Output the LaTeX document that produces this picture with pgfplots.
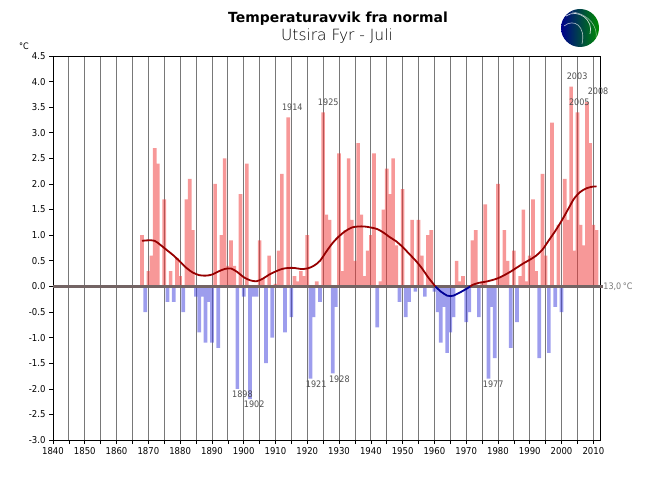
\documentclass[border=0pt]{standalone}
\usepackage{fontspec}
\setmainfont{DejaVu Sans}
\newfontfamily\cond{DejaVu Sans Condensed}
\newfontfamily\light{DejaVu Sans ExtraLight}
\usepackage{pgfplots}
\pgfplotsset{compat=1.18}
\usepackage{pgfplotstable}
\definecolor{gridgray}{RGB}{120,120,120}
\definecolor{barred}{RGB}{240,50,50}
\definecolor{barblue}{RGB}{60,60,220}
\definecolor{curvered}{RGB}{150,0,0}
\definecolor{curveblue}{RGB}{0,0,150}
\definecolor{labgray}{RGB}{80,80,80}
\definecolor{zerogray}{RGB}{115,100,100}

\pgfplotstableread{
year dev
1868 1.0
1869 -0.5
1870 0.3
1871 0.6
1872 2.7
1873 2.4
1874 0.0
1875 1.7
1876 -0.3
1877 0.3
1878 -0.3
1879 0.55
1880 0.2
1881 -0.5
1882 1.7
1883 2.1
1884 1.1
1885 -0.2
1886 -0.9
1887 -0.2
1888 -1.1
1889 -0.3
1890 -1.1
1891 2.0
1892 -1.2
1893 1.0
1894 2.5
1895 0.4
1896 0.9
1897 0.4
1898 -2.0
1899 1.8
1900 -0.2
1901 2.4
1902 -2.2
1903 -0.2
1904 -0.2
1905 0.9
1906 0.15
1907 -1.5
1908 0.6
1909 -1.0
1910 0.05
1911 0.7
1912 2.2
1913 -0.9
1914 3.3
1915 -0.6
1916 0.2
1917 0.1
1918 0.3
1919 0.2
1920 1.0
1921 -1.8
1922 -0.6
1923 0.1
1924 -0.3
1925 3.4
1926 1.4
1927 1.3
1928 -1.7
1929 -0.4
1930 2.6
1931 0.3
1932 1.1
1933 2.5
1934 1.3
1935 0.5
1936 2.8
1937 1.4
1938 0.2
1939 0.7
1940 1.0
1941 2.6
1942 -0.8
1943 0.1
1944 1.5
1945 2.3
1946 1.8
1947 2.5
1948 0.8
1949 -0.3
1950 1.9
1951 -0.6
1952 -0.3
1953 1.3
1954 -0.1
1955 1.3
1956 0.6
1957 -0.2
1958 1.0
1959 1.1
1960 -0.1
1961 -0.5
1962 -1.1
1963 -0.4
1964 -1.3
1965 -0.9
1966 -0.6
1967 0.5
1968 0.1
1969 0.2
1970 -0.7
1971 -0.5
1972 0.9
1973 1.1
1974 -0.6
1975 0.1
1976 1.6
1977 -1.8
1978 -0.4
1979 -1.4
1980 2.0
1981 0.2
1982 1.1
1983 0.5
1984 -1.2
1985 0.7
1986 -0.7
1987 0.2
1988 1.5
1989 0.1
1990 0.6
1991 1.7
1992 0.3
1993 -1.4
1994 2.2
1995 0.6
1996 -1.3
1997 3.2
1998 -0.4
1999 1.2
2000 -0.5
2001 2.1
2002 1.3
2003 3.9
2004 0.7
2005 3.4
2006 1.2
2007 0.8
2008 3.6
2009 2.8
2010 1.2
2011 1.1
}\datatable

\begin{document}
\begin{tikzpicture}
\begin{scope}[x=1bp,y=-1bp,shift={(-53bp,440bp)}]
\useasboundingbox (0,0) rectangle (650,500);
\end{scope}
\begin{axis}[
  at={(0,0)}, anchor=south west,
  scale only axis, width=547bp, height=384bp,
  xmin=1840, xmax=2012.1, ymin=-3, ymax=4.5,
  xtick={1840,1850,1860,1870,1880,1890,1900,1910,1920,1930,1940,1950,1960,1970,1980,1990,2000,2010},
  minor xtick={1845,1855,1865,1875,1885,1895,1905,1915,1925,1935,1945,1955,1965,1975,1985,1995,2005},
  ytick={-3,-2.5,-2,-1.5,-1,-0.5,0,0.5,1,1.5,2,2.5,3,3.5,4,4.5},
  xmajorgrids, xminorgrids,
  major grid style={gridgray, line width=0.8bp},
  minor grid style={gridgray, line width=0.8bp},
  tick align=outside, xtick pos=bottom, ytick pos=left,
  major tick length=4bp, minor tick length=4bp,
  tick style={black, line width=0.6bp},
  x tick label style={/pgf/number format/1000 sep={}},
  y tick label style={/pgf/number format/.cd, fixed, fixed zerofill, precision=1},
  tick label style={font=\cond\fontsize{9.5}{9.5}\selectfont},
  /pgf/number format/assume math mode=true,
  axis line style={black, line width=0.8bp},
  clip=false,
]
\addplot[ybar, bar width=1.15, bar shift=0pt, fill=barred, fill opacity=0.5, draw=none,
  restrict y to domain=0:10] table[x=year,y=dev]{\datatable};
\addplot[ybar, bar width=1.15, bar shift=0pt, fill=barblue, fill opacity=0.5, draw=none,
  restrict y to domain=-10:0] table[x=year,y=dev]{\datatable};
\addplot[zerogray, line width=2.4bp] coordinates {(1840,0) (2013,0)};
\addplot[curvered, line width=1.8bp, smooth] coordinates {
(1868,0.89) (1870,0.9) (1872,0.89) (1874,0.8) (1876,0.7) (1878,0.6) (1880,0.48)
(1882,0.36) (1884,0.27) (1886,0.22) (1888,0.21) (1890,0.23) (1892,0.29) (1894,0.34)
(1896,0.35) (1898,0.28) (1900,0.18) (1902,0.12) (1904,0.1) (1906,0.15) (1908,0.23)
(1910,0.29) (1912,0.34) (1914,0.36) (1916,0.36) (1918,0.34) (1920,0.35) (1922,0.4)
(1924,0.5) (1926,0.68) (1928,0.85) (1930,0.98) (1932,1.08) (1934,1.15) (1936,1.17)
(1938,1.17) (1940,1.15) (1942,1.12) (1944,1.05) (1946,0.96) (1948,0.88) (1950,0.77)
(1952,0.64) (1954,0.51) (1956,0.36) (1958,0.18) (1960.3,0)};
\addplot[curveblue, line width=1.8bp, smooth] coordinates {
(1960.3,0) (1962,-0.1) (1964,-0.18) (1965,-0.19) (1966,-0.18) (1968,-0.12) (1970,-0.05) (1971.3,0)};
\addplot[curvered, line width=1.8bp, smooth] coordinates {
(1971.3,0) (1972,0.03) (1974,0.07) (1976,0.09) (1978,0.12) (1980,0.16) (1982,0.22)
(1984,0.29) (1986,0.37) (1988,0.45) (1990,0.52) (1992,0.6) (1994,0.72) (1996,0.9)
(1998,1.08) (2000,1.28) (2002,1.5) (2004,1.72) (2006,1.85) (2008,1.92) (2010,1.95) (2011,1.95)};
\begin{scope}[every node/.style={labgray, font=\cond\fontsize{9}{9}\selectfont, inner sep=0pt}]
\node at (axis cs:1915.3,3.50) {1914};
\node at (axis cs:1926.6,3.60) {1925};
\node at (axis cs:1899.6,-2.10) {1898};
\node at (axis cs:1903.3,-2.30) {1902};
\node at (axis cs:1922.8,-1.91) {1921};
\node at (axis cs:1930.1,-1.81) {1928};
\node at (axis cs:1978.5,-1.91) {1977};
\node at (axis cs:2004.9,4.11) {2003};
\node at (axis cs:2011.5,3.81) {2008};
\node at (axis cs:2005.6,3.60) {2005};
\node[anchor=west, gridgray] at (axis cs:2013.1,0) {13,0\,°C};
\end{scope}
\end{axis}
\begin{scope}[x=1bp,y=-1bp,shift={(-53bp,440bp)}]
\node[font=\bfseries\fontsize{14}{15}\selectfont, inner sep=0pt] at (338,19) {Temperaturavvik fra normal};
\node[font=\light\fontsize{15.5}{16}\selectfont, inner sep=0pt] at (337,36) {Utsira Fyr - Juli};
\node[font=\cond\fontsize{9}{9}\selectfont, inner sep=0pt] at (24,46) {°C};
\shade[left color=blue!55!black, right color=green!55!black] (580,28) circle (19);
\draw[white, line width=0.7bp, opacity=0.8] (566,16) .. controls (578,8) and (594,20) .. (590,34);
\draw[white, line width=0.6bp, opacity=0.7] (564,26) .. controls (574,18) and (586,26) .. (582,44);
\draw[white, line width=0.5bp, opacity=0.6] (572,12) .. controls (590,14) and (598,28) .. (596,38);
\end{scope}
\end{tikzpicture}
\end{document}
